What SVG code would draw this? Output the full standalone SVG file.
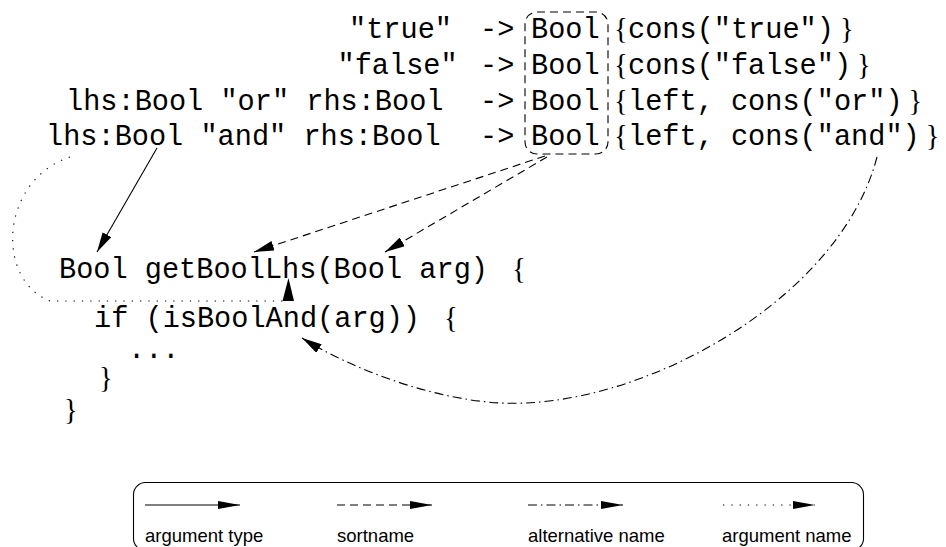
<svg xmlns="http://www.w3.org/2000/svg" width="946" height="547" viewBox="0 0 946 547">
<style>
.m{font-family:"Liberation Mono","Courier New",monospace;font-size:28.6px;fill:#000}
.br{font-family:"Liberation Serif","Times New Roman",serif;font-size:28.6px;fill:#000}
.lg{font-family:"Liberation Sans",Arial,sans-serif;font-size:18.5px;fill:#000}
.ln{fill:none;stroke:#000;stroke-width:1.1}
.dash{stroke-dasharray:8 5}
.dashdot{stroke-dasharray:9 4 1.5 4}
.dot{stroke-dasharray:1.3 7}
</style>
<defs>
<marker id="ah" viewBox="0 0 20 10" markerWidth="20" markerHeight="10" refX="20" refY="5" orient="auto" markerUnits="userSpaceOnUse">
<path d="M0,0 L20,5 L0,10 Z" fill="#000"/>
</marker>
<marker id="ahs" viewBox="0 0 22 8" markerWidth="22" markerHeight="8" refX="22" refY="4" orient="auto" markerUnits="userSpaceOnUse">
<path d="M0,0 L22,4 L0,8 Z" fill="#000"/>
</marker>
</defs>

<g id="rules">
<text class="m" x="349" y="38">"true"</text>
<text class="m" x="337.5" y="74">"false"</text>
<text class="m" x="66" y="110">lhs:Bool "or" rhs:Bool</text>
<text class="m" x="46" y="145">lhs:Bool "and" rhs:Bool</text>
<text class="m" x="480" y="38">-&gt;</text>
<text class="m" x="480" y="74">-&gt;</text>
<text class="m" x="480" y="110">-&gt;</text>
<text class="m" x="480" y="145">-&gt;</text>
</g>

<g id="sort-box">
<rect x="525" y="12" width="83" height="142" rx="12" class="ln dash"/>
<text class="m" x="531" y="38">Bool</text>
<text class="m" x="531" y="74">Bool</text>
<text class="m" x="531" y="110">Bool</text>
<text class="m" x="531" y="145">Bool</text>
</g>

<g id="annotations">
<text y="38"><tspan class="br" x="614">{</tspan><tspan class="m" x="628">cons("true")</tspan><tspan class="br" dx="6">}</tspan></text>
<text y="74"><tspan class="br" x="614">{</tspan><tspan class="m" x="628">cons("false")</tspan><tspan class="br" dx="6">}</tspan></text>
<text y="110"><tspan class="br" x="614">{</tspan><tspan class="m" x="628">left, cons("or")</tspan><tspan class="br" dx="6">}</tspan></text>
<text y="145"><tspan class="br" x="614">{</tspan><tspan class="m" x="628">left, cons("and")</tspan><tspan class="br" dx="6">}</tspan></text>
</g>

<g id="code">
<text y="278"><tspan class="m" x="59">Bool getBoolLhs(Bool arg)</tspan><tspan class="br" x="512">{</tspan></text>
<text y="327"><tspan class="m" x="94">if (isBoolAnd(arg))</tspan><tspan class="br" x="444">{</tspan></text>
<text class="m" x="128" y="358">...</text>
<text class="br" x="99" y="387">}</text>
<text class="br" x="64" y="419">}</text>
</g>

<g id="connectors">
<path class="ln" d="M157,148 L97,252" marker-end="url(#ah)"/>
<path class="ln dash" d="M545,156 L254,252" marker-end="url(#ah)"/>
<path class="ln dash" d="M547,157 L385,252" marker-end="url(#ah)"/>
<path class="ln dashdot" d="M877,157 C840,300 640,410 500,403 C430,399 350,368 302,338" marker-end="url(#ah)"/>
<path class="ln dot" d="M70,157 C0,180 -5,280 50,301 L286,301"/>
<path d="M282.5,301 L288.5,278 L294,301 Z" fill="#000"/>
</g>

<g id="legend">
<rect x="133.5" y="482.5" width="730" height="68" rx="12" class="ln"/>
<path class="ln" d="M145,505 L240,505" marker-end="url(#ahs)"/>
<path class="ln dash" d="M337,505 L432,505" marker-end="url(#ahs)"/>
<path class="ln dashdot" d="M528,505 L623,505" marker-end="url(#ahs)"/>
<path class="ln dot" d="M723,505 L815,505" marker-end="url(#ahs)"/>
<text class="lg" x="145" y="542">argument type</text>
<text class="lg" x="337" y="542">sortname</text>
<text class="lg" x="528" y="542">alternative name</text>
<text class="lg" x="722" y="542">argument name</text>
</g>
</svg>
